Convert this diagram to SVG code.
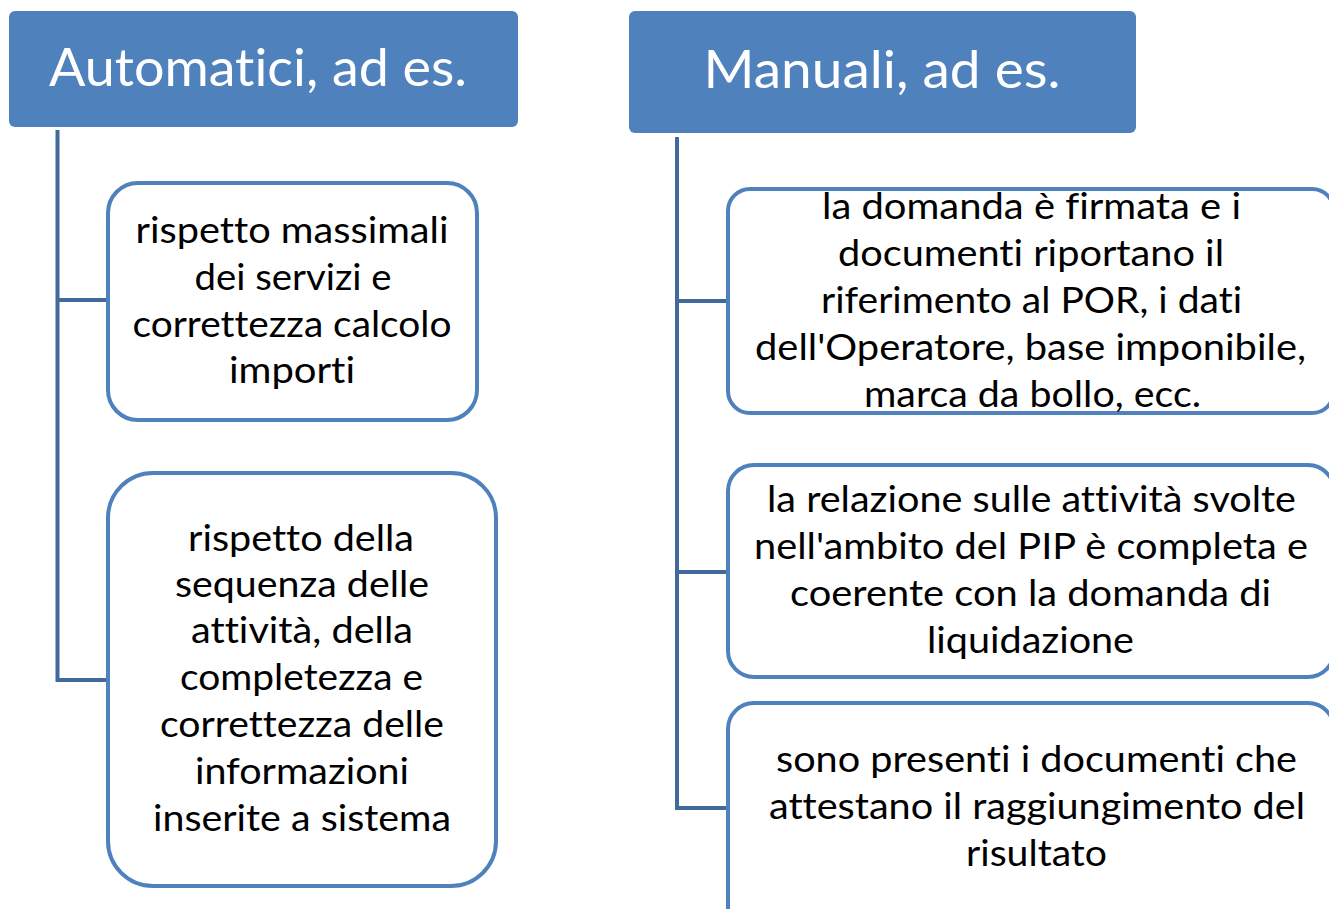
<svg xmlns="http://www.w3.org/2000/svg" width="1329" height="909" viewBox="0 0 1329 909">
<style>
.hdr{fill:#4F81BD}
.box{fill:#FFFFFF;stroke:#4F81BD;stroke-width:4}
.ln{fill:none;stroke:#41699C;stroke-width:4}
.ht{font-family:Lato,"Open Sans",sans-serif;font-size:53px;fill:#FFFFFF;text-anchor:middle;font-variant-ligatures:none;font-feature-settings:"liga" 0,"clig" 0,"dlig" 0}
.bt{font-family:Lato,"Open Sans",sans-serif;font-size:36px;fill:#000000;text-anchor:middle;font-variant-ligatures:none;font-feature-settings:"liga" 0,"clig" 0,"dlig" 0}
</style>
<rect width="1329" height="909" fill="#FFFFFF"/>
<g id="connectors">
<path class="ln" d="M57.5 130 V680 H108 M57.5 300 H108"/>
<path class="ln" d="M677 137 V808 H728 M677 301 H728 M677 572 H728"/>
</g>
<g id="hdr-automatici">
<rect class="hdr" x="9" y="11" width="509" height="116" rx="6"/>
<text class="ht" x="258" y="86" textLength="418" lengthAdjust="spacingAndGlyphs">Automatici, ad es.</text>
</g>
<g id="hdr-manuali">
<rect class="hdr" x="629" y="11" width="507" height="122" rx="6"/>
<text class="ht" x="882" y="88" textLength="357" lengthAdjust="spacingAndGlyphs">Manuali, ad es.</text>
</g>
<g id="box-massimali">
<rect class="box" x="108" y="183" width="369" height="237" rx="30"/>
<text class="bt" x="292" y="243" textLength="313" lengthAdjust="spacingAndGlyphs">rispetto massimali</text>
<text class="bt" x="293" y="290" textLength="197" lengthAdjust="spacingAndGlyphs">dei servizi e</text>
<text class="bt" x="292" y="337" textLength="319" lengthAdjust="spacingAndGlyphs">correttezza calcolo</text>
<text class="bt" x="292" y="383" textLength="126" lengthAdjust="spacingAndGlyphs">importi</text>
</g>
<g id="box-sequenza">
<rect class="box" x="108" y="473" width="388" height="413" rx="45"/>
<text class="bt" x="301" y="551" textLength="226" lengthAdjust="spacingAndGlyphs">rispetto della</text>
<text class="bt" x="302" y="597" textLength="254" lengthAdjust="spacingAndGlyphs">sequenza delle</text>
<text class="bt" x="302" y="643" textLength="222" lengthAdjust="spacingAndGlyphs">attività, della</text>
<text class="bt" x="301.5" y="690" textLength="243" lengthAdjust="spacingAndGlyphs">completezza e</text>
<text class="bt" x="302" y="737" textLength="284" lengthAdjust="spacingAndGlyphs">correttezza delle</text>
<text class="bt" x="302" y="784" textLength="214" lengthAdjust="spacingAndGlyphs">informazioni</text>
<text class="bt" x="302" y="831" textLength="298" lengthAdjust="spacingAndGlyphs">inserite a sistema</text>
</g>
<g id="box-domanda">
<rect class="box" x="728" y="189" width="606" height="224" rx="22"/>
<text class="bt" x="1031.5" y="219" textLength="419" lengthAdjust="spacingAndGlyphs">la domanda è firmata e i</text>
<text class="bt" x="1031" y="266" textLength="386" lengthAdjust="spacingAndGlyphs">documenti riportano il</text>
<text class="bt" x="1031.5" y="313" textLength="421" lengthAdjust="spacingAndGlyphs">riferimento al POR, i dati</text>
<text class="bt" x="1030.5" y="360" textLength="551" lengthAdjust="spacingAndGlyphs">dell'Operatore, base imponibile,</text>
<text class="bt" x="1032.5" y="407" textLength="337" lengthAdjust="spacingAndGlyphs">marca da bollo, ecc.</text>
</g>
<g id="box-relazione">
<rect class="box" x="728" y="465" width="606" height="212" rx="26"/>
<text class="bt" x="1031.5" y="512" textLength="529" lengthAdjust="spacingAndGlyphs">la relazione sulle attività svolte</text>
<text class="bt" x="1031" y="559" textLength="554" lengthAdjust="spacingAndGlyphs">nell'ambito del PIP è completa e</text>
<text class="bt" x="1030.5" y="606" textLength="481" lengthAdjust="spacingAndGlyphs">coerente con la domanda di</text>
<text class="bt" x="1030.5" y="653" textLength="207" lengthAdjust="spacingAndGlyphs">liquidazione</text>
</g>
<g id="box-documenti">
<rect class="box" x="728" y="703" width="606" height="230" rx="26"/>
<text class="bt" x="1036.5" y="772" textLength="521" lengthAdjust="spacingAndGlyphs">sono presenti i documenti che</text>
<text class="bt" x="1037" y="819" textLength="536" lengthAdjust="spacingAndGlyphs">attestano il raggiungimento del</text>
<text class="bt" x="1036.5" y="866" textLength="141" lengthAdjust="spacingAndGlyphs">risultato</text>
</g>
</svg>
